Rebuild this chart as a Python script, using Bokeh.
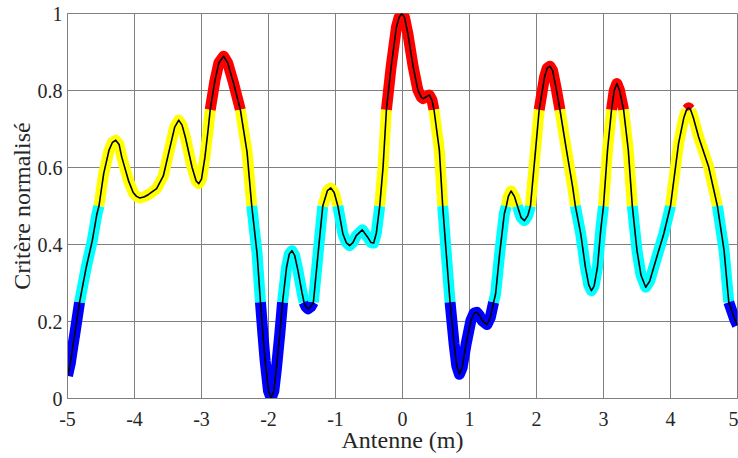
from bokeh.plotting import figure
from bokeh.models import Range1d, FixedTicker
from bokeh.embed import file_html
from bokeh.resources import INLINE

# Antenna position (m) and normalised criterion
antenne = [-5.00, -4.96, -4.93, -4.88, -4.82, -4.72, -4.63, -4.56, -4.53, -4.46,
           -4.38, -4.33, -4.28, -4.23, -4.19, -4.09, -4.02, -3.97, -3.92, -3.85,
           -3.79, -3.67, -3.57, -3.47, -3.40, -3.34, -3.29, -3.24, -3.14, -3.08,
           -3.04, -3.00, -2.95, -2.90, -2.87, -2.80, -2.74, -2.67, -2.61, -2.52,
           -2.42, -2.32, -2.25, -2.17, -2.12, -2.08, -2.05, -2.00, -1.96, -1.92,
           -1.88, -1.83, -1.79, -1.73, -1.69, -1.65, -1.61, -1.56, -1.50, -1.47,
           -1.44, -1.41, -1.37, -1.33, -1.26, -1.19, -1.12, -1.07, -1.02, -0.965,
           -0.89, -0.84, -0.79, -0.74, -0.69, -0.60, -0.52, -0.47, -0.43, -0.39,
           -0.34, -0.29, -0.24, -0.17, -0.09, -0.05, -0.01, 0.03, 0.08, 0.16,
           0.23, 0.28, 0.31, 0.35, 0.40, 0.44, 0.47, 0.55, 0.60, 0.65,
           0.71, 0.77, 0.81, 0.85, 0.89, 0.95, 1.02, 1.07, 1.11, 1.15,
           1.19, 1.26, 1.31, 1.36, 1.39, 1.45, 1.52, 1.55, 1.58, 1.62,
           1.67, 1.715, 1.77, 1.82, 1.87, 1.91, 1.99, 2.04, 2.12, 2.16,
           2.20, 2.24, 2.29, 2.35, 2.44, 2.54, 2.58, 2.66, 2.73, 2.78,
           2.82, 2.86, 2.91, 2.96, 3.00, 3.06, 3.12, 3.16, 3.20, 3.24,
           3.30, 3.37, 3.43, 3.50, 3.56, 3.63, 3.69, 3.75, 3.90, 4.00,
           4.12, 4.20, 4.24, 4.27, 4.30, 4.34, 4.42, 4.57, 4.70, 4.80,
           4.87, 4.92, 4.96, 5.00]
critere = [0.059, 0.090, 0.124, 0.180, 0.250, 0.341, 0.410, 0.480, 0.500, 0.584,
           0.645, 0.665, 0.671, 0.660, 0.627, 0.566, 0.535, 0.525, 0.521, 0.524,
           0.530, 0.545, 0.578, 0.653, 0.705, 0.723, 0.710, 0.678, 0.600, 0.565,
           0.558, 0.570, 0.625, 0.700, 0.750, 0.825, 0.872, 0.889, 0.872, 0.818,
           0.750, 0.640, 0.500, 0.376, 0.250, 0.160, 0.098, 0.020, 0.001, 0.020,
           0.081, 0.170, 0.250, 0.341, 0.375, 0.384, 0.372, 0.332, 0.275, 0.250,
           0.238, 0.233, 0.238, 0.250, 0.376, 0.500, 0.540, 0.547, 0.535, 0.500,
           0.428, 0.405, 0.397, 0.405, 0.423, 0.438, 0.419, 0.405, 0.404, 0.430,
           0.500, 0.601, 0.750, 0.861, 0.965, 0.990, 1.000, 0.990, 0.948, 0.861,
           0.801, 0.783, 0.779, 0.783, 0.788, 0.775, 0.750, 0.645, 0.500, 0.384,
           0.250, 0.142, 0.085, 0.063, 0.080, 0.142, 0.202, 0.222, 0.224, 0.215,
           0.202, 0.192, 0.210, 0.250, 0.272, 0.376, 0.480, 0.500, 0.525, 0.539,
           0.525, 0.500, 0.470, 0.462, 0.475, 0.500, 0.653, 0.750, 0.835, 0.858,
           0.863, 0.852, 0.809, 0.750, 0.653, 0.549, 0.500, 0.428, 0.341, 0.295,
           0.280, 0.292, 0.341, 0.440, 0.500, 0.645, 0.750, 0.800, 0.818, 0.800,
           0.750, 0.645, 0.500, 0.384, 0.320, 0.289, 0.305, 0.341, 0.428, 0.500,
           0.662, 0.730, 0.750, 0.755, 0.750, 0.730, 0.679, 0.601, 0.500, 0.384,
           0.250, 0.225, 0.205, 0.190]

seuils = [0.25, 0.5, 0.75]
couleurs = ["#0000FF", "#00FFFF", "#FFFF00", "#FF0000"]
x_ticks = [-5, -4, -3, -2, -1, 0, 1, 2, 3, 4, 5]
y_ticks = [0, 0.2, 0.4, 0.6, 0.8, 1]
y_labels = ["0", "0.2", "0.4", "0.6", "0.8", "1"]

# Split the curve into runs by value band
xs, ys, cols = [], [], []
cur = None
for i in range(len(antenne) - 1):
    mid = (critere[i] + critere[i + 1]) / 2
    b = sum(mid > s for s in seuils)
    if b != cur:
        xs.append([antenne[i], antenne[i + 1]])
        ys.append([critere[i], critere[i + 1]])
        cols.append(couleurs[b])
        cur = b
    else:
        xs[-1].append(antenne[i + 1])
        ys[-1].append(critere[i + 1])

FONT = "Liberation Serif"
GRID = "#808080"
TXT = "#262626"

p = figure(width=738, height=458, output_backend="svg", toolbar_location=None,
           x_range=Range1d(-5, 5), y_range=Range1d(0, 1),
           min_border_left=67, min_border_right=1, min_border_top=13, min_border_bottom=60)
p.background_fill_color = "white"
p.border_fill_color = "white"
p.outline_line_color = GRID
p.outline_line_width = 1

p.xaxis.ticker = FixedTicker(ticks=x_ticks)
p.yaxis.ticker = FixedTicker(ticks=y_ticks)
p.xaxis.major_label_overrides = {t: str(t) for t in x_ticks}
p.yaxis.major_label_overrides = {t: l for t, l in zip(y_ticks, y_labels)}
for ax in (p.xaxis, p.yaxis):
    ax.axis_line_color = GRID
    ax.major_tick_line_color = None
    ax.minor_tick_line_color = None
    ax.major_tick_out = 0
    ax.major_tick_in = 0
    ax.major_label_text_font = FONT
    ax.major_label_text_font_size = "20px"
    ax.major_label_text_color = TXT
    ax.axis_label_text_font = FONT
    ax.axis_label_text_font_size = "24px"
    ax.axis_label_text_font_style = "normal"
    ax.axis_label_text_color = TXT
p.xaxis.major_label_standoff = 13
p.yaxis.major_label_standoff = 5
p.xaxis.axis_label = "Antenne (m)"
p.yaxis.axis_label = "Critère normalisé"
p.xaxis.axis_label_standoff = -2
p.yaxis.axis_label_standoff = 0

p.xgrid.ticker = FixedTicker(ticks=x_ticks)
p.ygrid.ticker = FixedTicker(ticks=y_ticks)
p.grid.grid_line_color = GRID
p.grid.grid_line_width = 1

p.multi_line(xs, ys, line_color=cols, line_width=11, line_join="round", line_cap="butt")
p.line(antenne, critere, line_color="black", line_width=1.6, line_join="round")

open("out.html", "w").write(file_html(p, INLINE))
